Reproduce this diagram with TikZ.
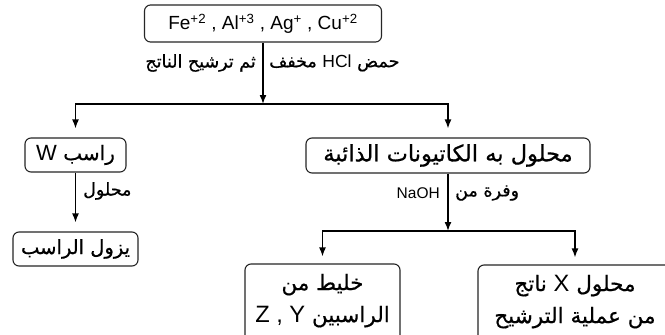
\documentclass[tikz,border=0pt]{standalone}
\usepackage{fontspec}
\setmainfont{Liberation Sans}
\newfontfamily\arabicfont[Script=Arabic,FakeBold=0.6]{DejaVu Sans}
\newfontfamily\latinfont[Scale=1.1]{Liberation Sans}
\TeXXeTstate=1
\usetikzlibrary{arrows.meta}
% right-to-left Arabic run; Latin symbols inside use a slightly larger Latin face
\newcommand{\artext}[1]{{\arabicfont\beginR #1\endR}}
\newcommand{\lat}[1]{{\latinfont #1}}
\begin{document}
\begin{tikzpicture}[x=1pt,y=-1pt,
  box/.style={draw=black!85, line width=1.1pt, rounded corners=6pt, inner sep=0pt,
    align=center, font=\fontsize{20}{32}\selectfont},
  conn/.style={line width=1.5pt},
  arr/.style={conn, -{Latex[length=9pt,width=7pt]}},
  lbl/.style={inner sep=0pt, font=\fontsize{17.5}{20}\selectfont}]
\clip (0,0) rectangle (665,335);
\fill[white] (0,0) rectangle (665,335);

% starting mixture of cations
\node[box, minimum width=237pt, minimum height=37pt, font=\fontsize{19}{24}\selectfont]
  (ions) at (263,23.5)
  {Fe\textsuperscript{+2} , Al\textsuperscript{+3} , Ag\textsuperscript{+} , Cu\textsuperscript{+2}};
\coordinate (split1) at (263,104);
\draw[arr] (ions) -- (split1);
\node[lbl, anchor=east] (hclB) at (256,63) {\artext{ثم ترشيح الناتج}};
\node[lbl, anchor=west] (hclA) at (269,63) {\artext{حمض {\normalfont HCl} مخفف}};

% first split
\node[box, minimum width=101pt, minimum height=34pt] (pptW) at (75.5,155)
  {\artext{راسب \lat{W}}};
\node[box, minimum width=284pt, minimum height=35pt, font=\fontsize{22.5}{32}\selectfont]
  (cations) at (448,155.5) {\artext{محلول به الكاتيونات الذائبة}};
\draw[arr, shorten >=9pt] (split1) -| (pptW);
\draw[arr, shorten >=9pt] (split1) -| (cations);

% precipitate W dissolves
\node[box, minimum width=125pt, minimum height=34pt, font=\fontsize{19.5}{32}\selectfont]
  (dissolves) at (75.5,249) {\artext{يزول الراسب}};
\draw[arr, shorten >=9pt] (pptW) -- (dissolves);
\node[lbl, anchor=west] (solv) at (83,191) {\artext{محلول}};

% excess NaOH
\coordinate (split2) at (448,231);
\draw[arr] (cations) -- (split2);
\node[lbl, anchor=east, font=\fontsize{15.5}{18}\selectfont] (naohA) at (440,193) {NaOH};
\node[lbl, anchor=west] (naohB) at (455,193) {\artext{وفرة من}};

% second split
\node[box, minimum width=155pt, minimum height=80pt, font=\fontsize{21.5}{32}\selectfont]
  (mix) at (322.5,304)
  {\artext{خليط من}\\\artext{الراسبين \lat{Y\ ,\ Z}}\rule[-12pt]{0pt}{12pt}};
\node[box, minimum width=194pt, minimum height=80pt, font=\fontsize{21.5}{32}\selectfont]
  (filtrate) at (575,305)
  {\artext{محلول \lat{X} ناتج}\\\artext{من عملية الترشيح}\rule[-12pt]{0pt}{12pt}};
\draw[arr, shorten >=7pt] (split2) -| (mix);
\draw[arr, shorten >=7pt] (split2) -| (filtrate);
\end{tikzpicture}
\end{document}
